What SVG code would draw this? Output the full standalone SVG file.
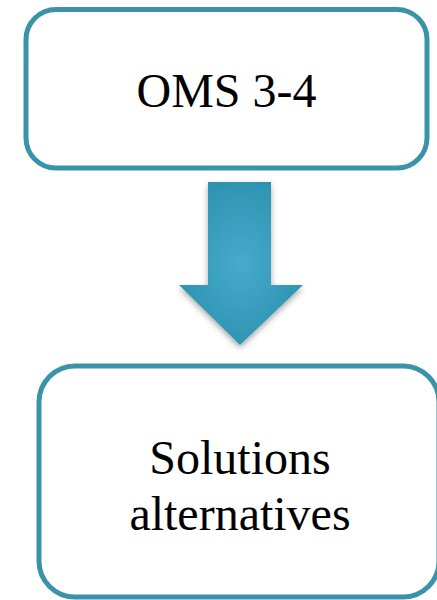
<svg xmlns="http://www.w3.org/2000/svg" width="437" height="600" viewBox="0 0 437 600">
<defs>
<style>
.box{fill:#ffffff;stroke:#3b93aa;stroke-width:5}
.lbl{font-family:"Liberation Serif","Times New Roman",serif;font-size:48px;fill:#000;text-anchor:middle}
</style>
<radialGradient id="ag" cx="0.5" cy="0.5" r="0.6">
<stop offset="0" stop-color="#47abcb"/>
<stop offset="1" stop-color="#2a90ad"/>
</radialGradient>
<filter id="sh" x="-20%" y="-20%" width="140%" height="140%">
<feGaussianBlur in="SourceAlpha" stdDeviation="3"/>
<feOffset dx="0" dy="3" result="b"/>
<feComponentTransfer><feFuncA type="linear" slope="0.35"/></feComponentTransfer>
<feMerge><feMergeNode/><feMergeNode in="SourceGraphic"/></feMerge>
</filter>
</defs>
<rect width="437" height="600" fill="#ffffff"/>
<g id="node-oms">
<rect class="box" x="26" y="9.5" width="401" height="158.5" rx="30"/>
<text class="lbl" x="226.5" y="107">OMS 3-4</text>
</g>
<g id="connectors">
<path d="M208 182 L271 182 L271 285 L303 285 L240 345 L179 285 L208 285 Z" fill="url(#ag)" filter="url(#sh)"/>
</g>
<g id="node-solutions">
<rect class="box" x="39" y="366" width="400" height="231" rx="36"/>
<text class="lbl" x="240" y="474">Solutions</text>
<text class="lbl" x="240" y="530">alternatives</text>
</g>
</svg>
